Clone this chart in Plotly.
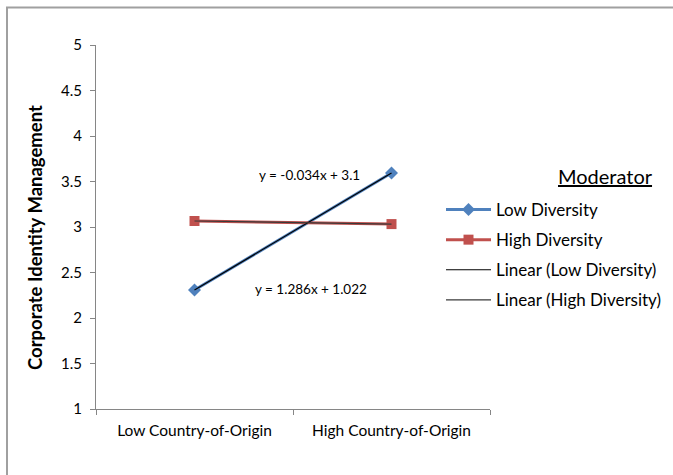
import numpy as np
import plotly.graph_objects as go

categories = ["Low Country-of-Origin", "High Country-of-Origin"]
low_diversity = [2.308, 3.594]
high_diversity = [3.066, 3.032]
eq_low = "y = 1.286x + 1.022"
eq_high = "y = -0.034x + 3.1"
y_ticks = [1, 1.5, 2, 2.5, 3, 3.5, 4, 4.5, 5]

W, H = 673, 475
L, R, T, B = 96, 183, 45, 66
pw, ph = W - L - R, H - T - B

def px_x(px):
    return (px - L) / pw

def px_y(py):
    return (H - B - py) / ph

FONT = "Lato"
blue = "#4F81BD"
red = "#C0504D"

xs = np.arange(1, len(categories) + 1)
fit_low = np.polyval(np.polyfit(xs, low_diversity, 1), xs)
fit_high = np.polyval(np.polyfit(xs, high_diversity, 1), xs)

fig = go.Figure()
fig.add_trace(go.Scatter(x=categories, y=low_diversity, name="Low Diversity",
                         mode="lines+markers", legendgroup="a",
                         line=dict(color=blue, width=3),
                         marker=dict(symbol="diamond", size=10, color=blue)))
fig.add_trace(go.Scatter(x=categories, y=high_diversity, name="High Diversity",
                         mode="lines+markers", legendgroup="b",
                         line=dict(color=red, width=3),
                         marker=dict(symbol="square", size=10, color=red)))
fig.add_trace(go.Scatter(x=categories, y=fit_low, name="Linear (Low Diversity)",
                         mode="lines", legendgroup="c",
                         line=dict(color="black", width=1.2)))
fig.add_trace(go.Scatter(x=categories, y=fit_high, name="Linear (High Diversity)",
                         mode="lines", legendgroup="d",
                         line=dict(color="#3a3a3a", width=1.2)))

border = dict(color="#A0A0A0", width=2)

fig.update_layout(
    template="none",
    width=W, height=H,
    margin=dict(l=L, r=R, t=T, b=B, autoexpand=False),
    paper_bgcolor="white", plot_bgcolor="white",
    font=dict(family=FONT, color="black", size=15),
    showlegend=True,
    legend=dict(x=px_x(441), y=px_y(192), xanchor="left", yanchor="top",
                font=dict(size=17, family=FONT, color="black"),
                tracegroupgap=5, itemwidth=45,
                bgcolor="rgba(0,0,0,0)", borderwidth=0),
    xaxis=dict(type="category", range=[-0.5, 1.5], automargin=False,
               showline=True, linecolor="#868686", linewidth=1,
               ticks="outside", tickson="boundaries", ticklen=5, tickcolor="#868686",
               ticklabelstandoff=7,
               showgrid=False, zeroline=False,
               tickfont=dict(size=15.5, family=FONT, color="black")),
    yaxis=dict(range=[1, 5], tickvals=y_ticks, ticktext=[f"{v:g}" for v in y_ticks],
               automargin=False,
               showline=True, linecolor="#868686", linewidth=1,
               ticks="outside", ticklen=5, tickcolor="#868686",
               ticklabelstandoff=5,
               showgrid=False, zeroline=False,
               tickfont=dict(size=15, family=FONT, color="black")),
    annotations=[
        dict(text="<b>Corporate Identity Management</b>", xref="paper", yref="paper",
             x=px_x(35), y=px_y(238), xanchor="center", yanchor="middle",
             textangle=-90, showarrow=False,
             font=dict(size=18.5, family=FONT, color="black")),
        dict(text=eq_high, xref="paper", yref="paper", x=px_x(309), y=px_y(175),
             xanchor="center", yanchor="middle",
             showarrow=False, font=dict(size=13.5, family=FONT, color="black")),
        dict(text=eq_low, xref="paper", yref="paper", x=px_x(311), y=px_y(289),
             xanchor="center", yanchor="middle",
             showarrow=False, font=dict(size=13.5, family=FONT, color="black")),
        dict(text="<u>Moderator</u>", xref="paper", yref="paper", x=px_x(605), y=px_y(176),
             xanchor="center", yanchor="middle",
             showarrow=False, font=dict(size=20, family=FONT, color="black")),
    ],
    shapes=[
        dict(type="line", xref="paper", yref="paper",
             x0=px_x(7), x1=px_x(7), y0=px_y(H + 10), y1=px_y(7),
             line=border, layer="below"),
        dict(type="line", xref="paper", yref="paper",
             x0=px_x(6), x1=px_x(W + 10), y0=px_y(7.5), y1=px_y(7.5),
             line=border, layer="below"),
    ],
)

fig.write_html("out.html",
               config={"displayModeBar": False},
               post_script="document.body.style.margin='0px';document.body.style.overflow='hidden';")
